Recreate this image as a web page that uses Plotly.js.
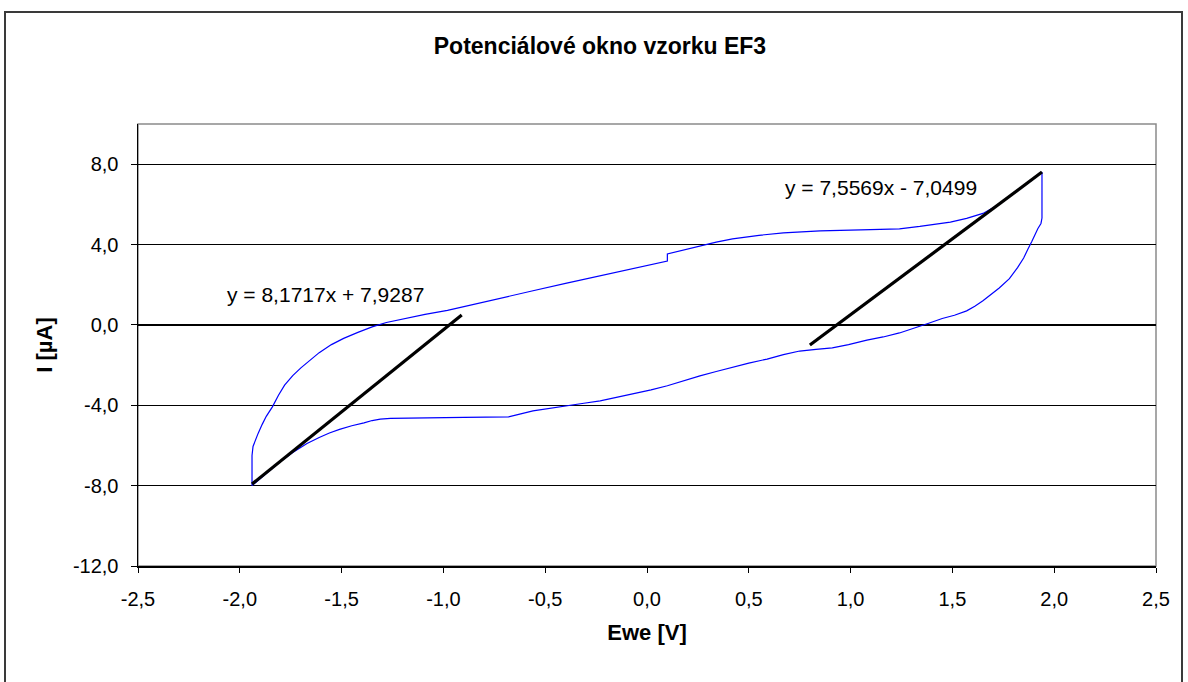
<!DOCTYPE html>
<html>
<head>
<meta charset="utf-8">
<script src="https://cdn.plot.ly/plotly-3.0.1.min.js"></script>
<style>
  html, body { margin: 0; padding: 0; background: #ffffff; }
  #chart { width: 1188px; height: 682px; }
</style>
</head>
<body>
<div id="chart"></div>
<script>
// Cyclic voltammogram (Ewe [V] vs I [µA])
const cvEwe = [
  -1.94, -1.94, -1.935, -1.925, -1.91, -1.89, -1.87, -1.84, -1.81, -1.78, -1.74, -1.70,
  -1.65, -1.61, -1.55, -1.49, -1.42, -1.35, -1.28, -1.20, -1.09, -0.98, -0.88, -0.74,
  -0.56, -0.40, -0.23, -0.06, 0.10, 0.10, 0.18, 0.26, 0.34, 0.42, 0.55, 0.67, 0.85,
  1.05, 1.24, 1.34, 1.42, 1.49, 1.57, 1.65, 1.73, 1.80, 1.87, 1.94,
  1.94, 1.935, 1.92, 1.905, 1.89, 1.87, 1.85, 1.82, 1.78, 1.73, 1.69, 1.65, 1.61, 1.57,
  1.51, 1.45, 1.38, 1.31, 1.24, 1.16, 1.08, 0.99, 0.91, 0.83, 0.75, 0.67, 0.59, 0.50,
  0.42, 0.34, 0.26, 0.18, 0.10, 0.02, -0.07, -0.15, -0.23, -0.31, -0.39, -0.48, -0.56,
  -0.62, -0.68, -0.90, -1.10, -1.21, -1.26, -1.31, -1.35, -1.39, -1.45, -1.51, -1.56,
  -1.61, -1.64, -1.67, -1.74, -1.80, -1.87, -1.94
];
const cvCurrent = [
  -8.00, -6.50, -6.05, -5.75, -5.40, -4.95, -4.55, -4.08, -3.50, -3.00, -2.52, -2.14,
  -1.70, -1.38, -0.98, -0.67, -0.37, -0.10, 0.12, 0.30, 0.52, 0.72, 0.95, 1.25,
  1.70, 2.07, 2.44, 2.80, 3.18, 3.53, 3.73, 3.93, 4.12, 4.28, 4.46, 4.58, 4.68,
  4.73, 4.78, 4.90, 5.00, 5.12, 5.30, 5.55, 6.00, 6.55, 7.05, 7.60,
  5.32, 5.05, 4.80, 4.45, 4.15, 3.75, 3.33, 2.85, 2.30, 1.84, 1.50, 1.20, 0.93, 0.70,
  0.48, 0.32, 0.07, -0.18, -0.40, -0.60, -0.76, -0.98, -1.14, -1.22, -1.30, -1.48, -1.70, -1.90,
  -2.10, -2.32, -2.54, -2.78, -3.03, -3.23, -3.43, -3.60, -3.78, -3.90, -4.03, -4.15, -4.28,
  -4.43, -4.58, -4.60, -4.61, -4.63, -4.65, -4.69, -4.76, -4.88, -5.02, -5.20, -5.38,
  -5.60, -5.75, -5.90, -6.35, -6.80, -7.40, -8.00
];

// Linear fits (end points of the drawn trend lines)
const fitLeftEwe = [-1.94, -0.91];
const fitLeftCurrent = [-7.92, 0.49];
const fitRightEwe = [0.80, 1.94];
const fitRightCurrent = [-1.00, 7.61];

const fitLeftLabel = 'y = 8,1717x + 7,9287';
const fitRightLabel = 'y = 7,5569x - 7,0499';
const fitLeftLabelPos = [-1.577, 1.49];
const fitRightLabelPos = [1.149, 6.82];

// Axis ticks
const xTickVals = [-2.5, -2.0, -1.5, -1.0, -0.5, 0.0, 0.5, 1.0, 1.5, 2.0, 2.5];
const xTickText = ['-2,5', '-2,0', '-1,5', '-1,0', '-0,5', '0,0', '0,5', '1,0', '1,5', '2,0', '2,5'];
const yTickVals = [-12, -8, -4, 0, 4, 8];
const yTickText = ['-12,0', '-8,0', '-4,0', '0,0', '4,0', '8,0'];

const chartTitle = 'Potenciálové okno vzorku EF3';
const xTitle = 'Ewe [V]';
const yTitle = 'I [µA]';

const FONT = 'Liberation Sans, Arial, sans-serif';

const traces = [
  {
    x: cvEwe, y: cvCurrent, type: 'scatter', mode: 'lines',
    line: { color: '#0000FF', width: 1.2 }, hoverinfo: 'skip', showlegend: false
  },
  {
    x: fitLeftEwe, y: fitLeftCurrent, type: 'scatter', mode: 'lines',
    line: { color: '#000000', width: 3.2 }, showlegend: false
  },
  {
    x: fitRightEwe, y: fitRightCurrent, type: 'scatter', mode: 'lines',
    line: { color: '#000000', width: 3.2 }, showlegend: false
  }
];

const W = 1188, H = 682;
const L = 138, R = 32, T = 124, B = 116;
const pw = W - L - R, ph = H - T - B;
const px = v => (v - L) / pw;
const py = v => (H - B - v) / ph;

const layout = {
  width: W, height: H,
  margin: { l: L, r: R, t: T, b: B, pad: 0 },
  paper_bgcolor: '#ffffff',
  plot_bgcolor: '#ffffff',
  showlegend: false,
  font: { family: FONT, size: 19, color: '#000000' },
  title: {
    text: '<b>' + chartTitle + '</b>',
    font: { family: FONT, size: 23, color: '#000000' },
    x: 0.505, xanchor: 'center', xref: 'container',
    y: 1 - 46 / H, yanchor: 'middle', yref: 'container'
  },
  xaxis: {
    range: [-2.5, 2.5],
    tickmode: 'array', tickvals: xTickVals, ticktext: xTickText,
    ticks: 'outside', ticklen: 5, tickwidth: 1, tickcolor: '#000000',
    showgrid: false, zeroline: false,
    showline: true, linecolor: '#000000', linewidth: 1.5,
    tickfont: { family: FONT, size: 20, color: '#000000' },
    ticklabelstandoff: 9,
    automargin: false,
    title: { text: '<b>' + xTitle + '</b>', font: { family: FONT, size: 22, color: '#000000' }, standoff: 16 }
  },
  yaxis: {
    range: [-12, 10],
    tickmode: 'array', tickvals: yTickVals, ticktext: yTickText,
    ticks: 'outside', ticklen: 6, tickwidth: 1, tickcolor: '#000000',
    showgrid: true, gridcolor: '#000000', gridwidth: 1.2,
    zeroline: false,
    showline: true, linecolor: '#000000', linewidth: 1.5,
    tickfont: { family: FONT, size: 20, color: '#000000' },
    ticklabelstandoff: 8,
    automargin: false,
    title: { text: '<b>' + yTitle + '</b>', font: { family: FONT, size: 22, color: '#000000' }, standoff: 14 }
  },
  shapes: [
    { type: 'rect', xref: 'paper', yref: 'paper', x0: 0, x1: 1, y0: 0, y1: 1,
      line: { color: '#8a8a8a', width: 1.5 }, fillcolor: 'rgba(0,0,0,0)', layer: 'below' },
    { type: 'rect', xref: 'paper', yref: 'paper',
      x0: px(5), x1: px(1182), y0: py(700), y1: py(12),
      line: { color: '#3a3a3a', width: 2 }, fillcolor: 'rgba(0,0,0,0)', layer: 'above' }
  ],
  annotations: [
    { x: fitLeftLabelPos[0], y: fitLeftLabelPos[1], xref: 'x', yref: 'y', text: fitLeftLabel,
      showarrow: false, xanchor: 'center', yanchor: 'middle',
      font: { family: FONT, size: 21, color: '#000000' } },
    { x: fitRightLabelPos[0], y: fitRightLabelPos[1], xref: 'x', yref: 'y', text: fitRightLabel,
      showarrow: false, xanchor: 'center', yanchor: 'middle',
      font: { family: FONT, size: 21, color: '#000000' } }
  ]
};

Plotly.newPlot('chart', traces, layout, { staticPlot: true, displayModeBar: false });
</script>
</body>
</html>
